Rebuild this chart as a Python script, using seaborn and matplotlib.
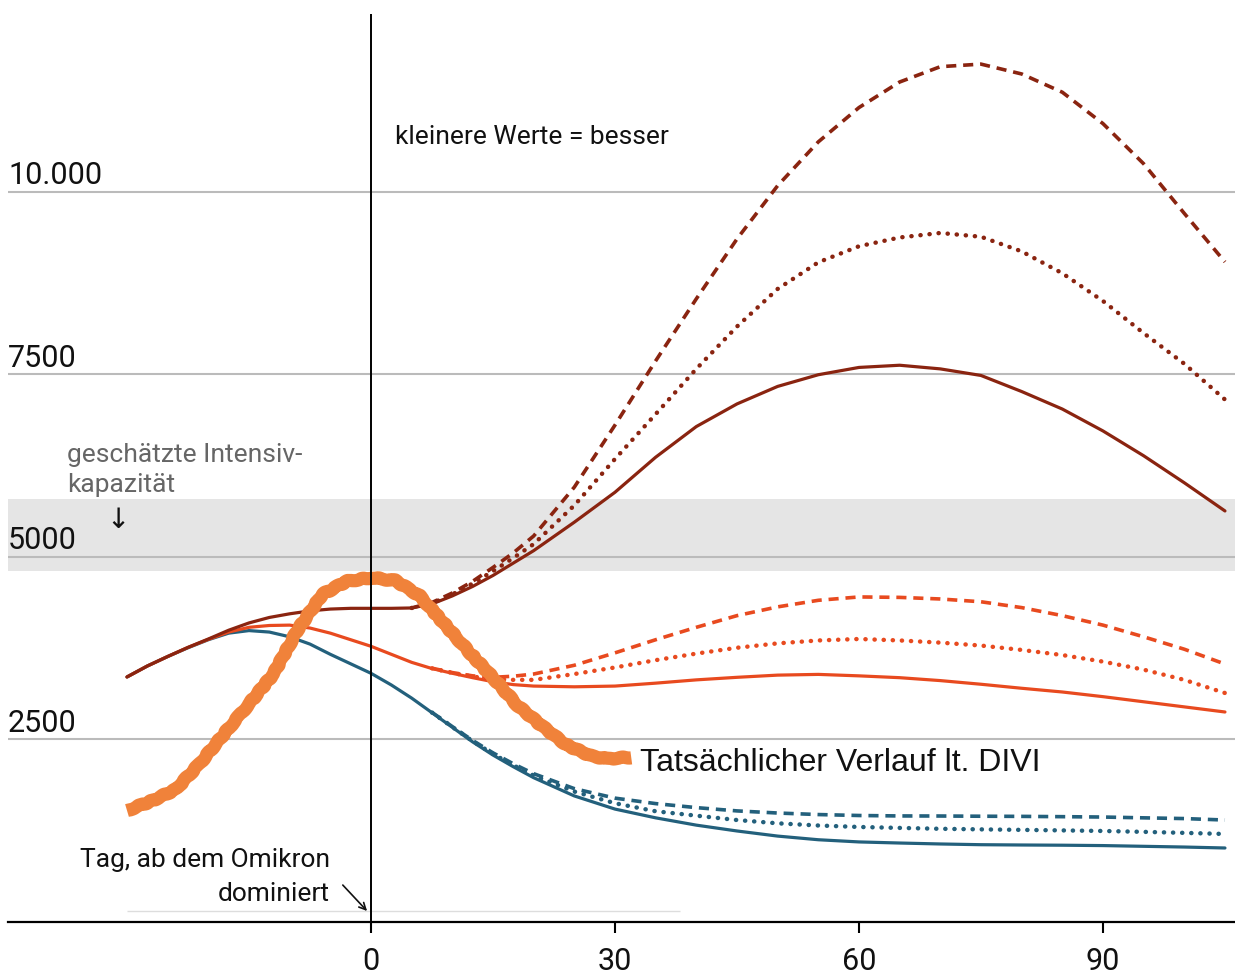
import numpy as np
import pandas as pd
import matplotlib
matplotlib.use('Agg')
from matplotlib import pyplot as plt
import seaborn as sns

# days since Omikron dominates (finer steps where the curves bend)
days = [-30, -27.5, -25, -22.5, -20, -17.5, -15, -12.5, -10, -7.5, -5, -2.5, 0, 2.5,
        5, 7.5, 10, 12.5, 15, 17.5, 20, 25, 30, 35, 40, 45, 50, 55, 60, 65, 70, 75,
        80, 85, 90, 95, 100, 105]
days_from5 = days[14:]    # maroon scenarios split at day 5
days_from7 = days[15:]    # orange / blue scenarios split at day 7.5

maroon_solid = [3350, 3500, 3630, 3755, 3870, 3990, 4090, 4165, 4215, 4255, 4280, 4290,
                4290, 4290, 4295, 4350, 4460, 4590, 4740, 4910, 5080, 5470, 5880, 6360,
                6780, 7090, 7330, 7490, 7590, 7620, 7570, 7480, 7260, 7020, 6720, 6380,
                6010, 5624]
maroon_dotted = [4295, 4360, 4480, 4630, 4800, 4980, 5170, 5700, 6336, 6950, 7570, 8150,
                 8665, 9030, 9250, 9370, 9432, 9380, 9180, 8880, 8500, 8060, 7640, 7150]
maroon_dashed = [4295, 4370, 4500, 4660, 4850, 5050, 5281, 5950, 6800, 7680, 8530, 9350,
                 10080, 10680, 11150, 11500, 11710, 11745, 11610, 11360, 10930, 10380,
                 9700, 9035]

orange_solid = [3350, 3500, 3630, 3755, 3865, 3965, 4030, 4055, 4060, 4020, 3950, 3860,
                3770, 3660, 3550, 3465, 3400, 3340, 3285, 3245, 3225, 3215, 3225, 3265,
                3310, 3345, 3375, 3385, 3365, 3340, 3300, 3250, 3195, 3144, 3080, 3010,
                2940, 2870]
orange_dotted = [3468, 3405, 3355, 3320, 3310, 3310, 3390, 3480, 3580, 3670, 3750, 3810,
                 3850, 3870, 3850, 3820, 3780, 3720, 3650, 3560, 3450, 3310, 3130]
orange_dashed = [3470, 3410, 3365, 3345, 3360, 3390, 3510, 3680, 3860, 4030, 4190, 4310,
                 4400, 4446, 4440, 4418, 4380, 4300, 4190, 4060, 3900, 3730, 3527]

blue_solid = [3350, 3500, 3630, 3750, 3860, 3950, 3985, 3965, 3900, 3800, 3660, 3530,
              3400, 3240, 3060, 2860, 2660, 2460, 2280, 2120, 1970, 1720, 1540, 1420,
              1320, 1240, 1170, 1120, 1090, 1075, 1062, 1052, 1048, 1045, 1040, 1030,
              1020, 1007]
blue_dotted = [2862, 2665, 2470, 2295, 2140, 2000, 1780, 1620, 1510, 1450, 1390, 1345,
               1315, 1295, 1282, 1270, 1262, 1255, 1248, 1240, 1228, 1214, 1199]
blue_dashed = [2865, 2670, 2480, 2310, 2160, 2025, 1820, 1690, 1615, 1560, 1515, 1486,
               1465, 1452, 1446, 1445, 1442, 1440, 1436, 1431, 1420, 1410, 1390]

# DIVI actual course
days_actual = [-30, -27, -24, -21, -18, -15, -12, -9, -6, -3, 0, 3, 6, 9, 12, 15, 18,
               21, 24, 27, 29, 32]
actual = [1520, 1650, 1810, 2170, 2580, 2980, 3390, 4000, 4480, 4660, 4710, 4670, 4460,
          4080, 3700, 3340, 2960, 2680, 2420, 2270, 2230, 2250]

capacity = (4800, 5790)
y_ticks = [2500, 5000, 7500, 10000]
y_labels = ['2500', '5000', '7500', '10.000']
x_ticks = [0, 30, 60, 90]

MAROON = '#8a2410'
ORANGE = '#e84a1f'
BLUE = '#23607c'
ACTUAL = '#f0823a'

sns.set_theme(style='white')
plt.rcParams['font.family'] = ['Roboto', 'DejaVu Sans']

fig = plt.figure(figsize=(12.35, 9.78), dpi=100)
ax = fig.add_axes([8 / 1235, 1 - 922.5 / 978, 1 - 8 / 1235, (922.5 - 15) / 978])

ax.axhspan(capacity[0], capacity[1], color='#e5e5e5', zorder=0.2, lw=0)

dotted = (0, (0.05, 2.0))
dashed = (0, (2.8, 1.9))

series = [
    (days_from7, blue_dashed, BLUE, dashed, 'butt', 2.6),
    (days_from7, blue_dotted, BLUE, dotted, 'round', 3.2),
    (days, blue_solid, BLUE, '-', 'round', 2.3),
    (days_from7, orange_dashed, ORANGE, dashed, 'butt', 2.6),
    (days_from7, orange_dotted, ORANGE, dotted, 'round', 3.2),
    (days, orange_solid, ORANGE, '-', 'round', 2.3),
    (days_from5, maroon_dashed, MAROON, dashed, 'butt', 2.6),
    (days_from5, maroon_dotted, MAROON, dotted, 'round', 3.2),
    (days, maroon_solid, MAROON, '-', 'round', 2.3),
]
for xs, ys, c, ls, cap, w in series:
    sns.lineplot(x=xs, y=ys, ax=ax, color=c, lw=w, linestyle=ls, errorbar=None,
                 dash_capstyle=cap, solid_capstyle='round', zorder=3)

sns.lineplot(x=days_actual, y=actual, ax=ax, color=ACTUAL, lw=9.5, errorbar=None,
             solid_capstyle='butt', solid_joinstyle='round', zorder=4)
ax.lines[-1].set_sketch_params(0.7, 18, 3)

# faint baseline
ax.hlines(144, -30, 38, color='#dddddd', lw=1, zorder=1)

ax.axvline(0, color='black', lw=1.4, zorder=6)

ax.set_xlim((8 - 371) / 8.133, (1235 - 371) / 8.133)
ax.set_ylim(0, (922.5 - 15) / 0.073)

ax.set_yticks(y_ticks)
ax.set_yticklabels([])
ax.tick_params(axis='y', length=0)
ax.yaxis.grid(True, color='#bbbbbb', lw=1.5)
ax.xaxis.grid(False)
ax.set_axisbelow(True)
for v, lab in zip(y_ticks, y_labels):
    ax.text(0, v + 110, lab, transform=ax.get_yaxis_transform(), ha='left',
            va='baseline', fontsize=22, color='#111111')

ax.set_xticks(x_ticks)
ax.set_xticklabels([str(t) for t in x_ticks])
ax.tick_params(axis='x', length=8, width=1.5, color='black', pad=10, labelsize=22,
               labelcolor='#111111', bottom=True)

for s in ['left', 'top', 'right']:
    ax.spines[s].set_visible(False)
ax.spines['bottom'].set_color('black')
ax.spines['bottom'].set_linewidth(1.6)

ax.text(2.95, 10760, 'kleinere Werte = besser', fontsize=19, va='center', ha='left',
        color='#111111')
ax.text(-37.4, 6308, 'geschätzte Intensiv-', fontsize=19, color='#666666',
        va='baseline', ha='left')
ax.text(-37.4, 5897, 'kapazität', fontsize=19, color='#666666', va='baseline', ha='left')
ax.text(-31.1, 5514, '↓', fontsize=20, ha='center', va='center', color='#111111',
        family=['DejaVu Sans'])

ax.text(-5.04, 760, 'Tag, ab dem Omikron', fontsize=19, ha='right', va='baseline',
        color='#111111')
ax.text(-5.04, 295, 'dominiert', fontsize=19, ha='right', va='baseline', color='#111111')
ax.annotate('', xy=(-0.25, 116), xytext=(-3.7, 527),
            arrowprops=dict(arrowstyle='->', color='#111111', lw=1.2), zorder=7)

ax.text(days_actual[-1] + 1.1, actual[-1] - 65, 'Tatsächlicher Verlauf lt. DIVI',
        fontsize=23, ha='left', va='center', color='#111111',
        family=['Liberation Sans Narrow', 'Liberation Sans', 'DejaVu Sans'])

plt.savefig('out.png', dpi=100)
plt.close()
